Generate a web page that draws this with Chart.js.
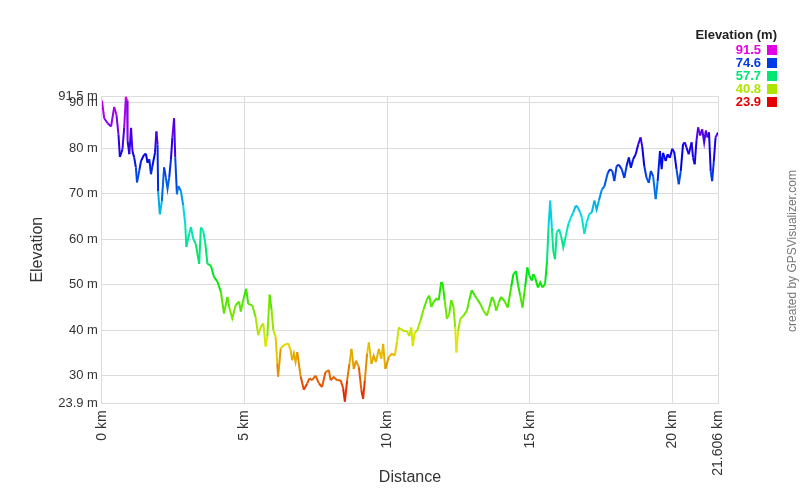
<!DOCTYPE html>
<html>
<head>
<meta charset="utf-8">
<script src="https://cdn.jsdelivr.net/npm/chart.js@4/dist/chart.umd.min.js"></script>
<style>
  html, body { margin: 0; padding: 0; background: #fff; }
  #wrap { position: relative; width: 805px; height: 493px; }
</style>
</head>
<body>
<div id="wrap"><canvas id="elevationChart" width="805" height="493"></canvas></div>
<script>
// Track profile
const distanceKm = [
  0.00, 0.08, 0.20, 0.32, 0.43, 0.51, 0.58, 0.63, 0.72, 0.78, 0.84, 0.88, 0.90, 0.96, 1.02, 1.07,
  1.13, 1.19, 1.23, 1.31, 1.37, 1.48, 1.54, 1.60, 1.66, 1.72, 1.77, 1.86, 1.91, 1.95, 1.97, 2.03,
  2.10, 2.18, 2.24, 2.30, 2.36, 2.42, 2.47, 2.53, 2.57, 2.63, 2.68, 2.77, 2.85, 2.92, 2.96, 3.06,
  3.12, 3.20, 3.29, 3.41, 3.47, 3.55, 3.62, 3.70, 3.82, 3.93, 4.05, 4.17, 4.28, 4.40, 4.46, 4.57,
  4.69, 4.81, 4.87, 4.98, 5.06, 5.13, 5.27, 5.39, 5.48, 5.57, 5.66, 5.74, 5.80, 5.88, 5.95, 6.01,
  6.09, 6.15, 6.18, 6.27, 6.38, 6.53, 6.62, 6.67, 6.73, 6.79, 6.85, 6.97, 7.08, 7.20, 7.28, 7.37,
  7.49, 7.61, 7.72, 7.84, 7.96, 8.02, 8.13, 8.25, 8.37, 8.46, 8.52, 8.60, 8.68, 8.75, 8.83, 8.91,
  9.01, 9.10, 9.16, 9.22, 9.30, 9.36, 9.45, 9.53, 9.61, 9.71, 9.80, 9.86, 9.94, 10.06, 10.17, 10.27,
  10.35, 10.41, 10.47, 10.52, 10.58, 10.70, 10.78, 10.85, 10.90, 10.97, 11.05, 11.17, 11.28, 11.40, 11.48, 11.55,
  11.63, 11.72, 11.81, 11.90, 11.95, 12.02, 12.10, 12.18, 12.25, 12.33, 12.39, 12.43, 12.49, 12.57, 12.68, 12.80,
  12.88, 12.97, 13.07, 13.15, 13.27, 13.38, 13.50, 13.59, 13.68, 13.76, 13.83, 13.91, 14.00, 14.12, 14.23, 14.35,
  14.43, 14.52, 14.59, 14.67, 14.75, 14.84, 14.92, 14.99, 15.08, 15.13, 15.19, 15.29, 15.37, 15.45, 15.54, 15.61,
  15.66, 15.72, 15.78, 15.83, 15.89, 15.95, 16.03, 16.10, 16.18, 16.27, 16.36, 16.45, 16.53, 16.62, 16.69, 16.77,
  16.83, 16.92, 17.00, 17.09, 17.18, 17.27, 17.35, 17.43, 17.53, 17.62, 17.74, 17.82, 17.90, 17.97, 18.05, 18.13,
  18.23, 18.32, 18.40, 18.48, 18.55, 18.63, 18.72, 18.81, 18.89, 18.95, 19.02, 19.10, 19.18, 19.25, 19.33, 19.42,
  19.49, 19.57, 19.63, 19.68, 19.77, 19.84, 19.92, 20.00, 20.07, 20.15, 20.23, 20.30, 20.38, 20.44, 20.50, 20.58,
  20.68, 20.73, 20.79, 20.85, 20.91, 20.98, 21.05, 21.12, 21.18, 21.24, 21.29, 21.35, 21.40, 21.46, 21.52, 21.606
];
const elevationM = [
  90.5, 86.6, 85.5, 84.8, 89.1, 87.3, 83.0, 78.1, 79.8, 84.5, 91.3, 90.5, 81.6, 78.7, 84.5, 79.4,
  78.0, 75.8, 72.5, 75.1, 77.2, 78.6, 78.8, 76.8, 77.6, 74.3, 76.1, 79.0, 83.7, 80.8, 70.6, 65.5,
  68.3, 75.8, 73.6, 71.1, 73.6, 77.6, 82.4, 86.6, 78.0, 69.9, 71.7, 70.6, 67.4, 63.4, 58.3, 61.2,
  62.7, 60.1, 59.0, 54.6, 62.6, 61.9, 59.3, 54.6, 54.2, 51.7, 50.7, 48.4, 43.7, 47.3, 45.1, 42.6,
  45.5, 46.3, 44.1, 47.3, 49.1, 45.8, 45.5, 42.9, 38.9, 40.7, 41.5, 36.4, 38.6, 47.8, 44.4, 40.0,
  38.6, 32.7, 29.8, 36.0, 36.7, 37.1, 35.6, 33.4, 34.9, 33.0, 35.2, 29.8, 26.9, 28.3, 29.4, 29.0,
  30.0, 28.3, 27.5, 30.8, 31.2, 29.0, 29.7, 29.0, 29.0, 27.2, 24.3, 29.0, 32.6, 35.9, 31.5, 33.3,
  31.9, 26.8, 24.9, 29.0, 34.9, 37.3, 32.6, 34.4, 33.0, 35.9, 33.7, 37.0, 31.5, 34.1, 34.8, 34.4,
  37.5, 40.6, 40.2, 40.2, 39.8, 39.8, 38.7, 40.6, 36.5, 39.5, 39.8, 42.1, 44.6, 46.8, 47.6, 45.1,
  46.2, 46.9, 46.6, 50.6, 50.2, 46.6, 42.5, 43.6, 46.6, 45.1, 40.6, 35.1, 39.8, 42.5, 43.2, 44.3,
  46.6, 48.8, 47.7, 46.9, 45.8, 44.3, 43.2, 45.1, 47.3, 46.2, 44.3, 46.0, 47.3, 46.4, 45.0, 49.4,
  52.3, 53.0, 50.1, 47.6, 45.0, 49.4, 53.8, 52.0, 50.9, 52.3, 51.6, 49.4, 50.5, 49.4, 50.1, 55.2,
  62.5, 68.5, 62.5, 57.4, 55.6, 61.5, 62.2, 60.8, 58.2, 60.8, 63.4, 64.8, 65.9, 67.4, 67.0, 65.9,
  64.8, 61.2, 63.7, 65.5, 65.9, 68.5, 66.5, 68.5, 70.9, 71.6, 74.6, 75.4, 75.0, 72.8, 76.1, 76.4,
  75.4, 73.5, 76.1, 78.0, 75.7, 77.6, 78.7, 80.9, 82.4, 80.3, 76.1, 73.5, 72.4, 75.0, 73.9, 68.8,
  72.8, 79.4, 75.4, 79.0, 77.2, 78.7, 77.9, 79.9, 79.2, 75.4, 72.1, 75.0, 80.9, 81.3, 80.2, 78.7,
  81.3, 78.0, 76.5, 81.6, 84.6, 82.8, 84.2, 81.3, 83.9, 82.4, 83.5, 75.0, 72.8, 77.2, 82.4, 83.5
];

// Axis ticks and legend steps
const distanceTicks = [0, 5, 10, 15, 20, 21.606];
const elevationTicks = [23.9, 30, 40, 50, 60, 70, 80, 90, 91.5];
const legendSteps = [91.5, 74.6, 57.7, 40.8, 23.9];

const minElev = 23.9;
const maxElev = 91.5;
const fontFamily = "'Liberation Sans', Arial, sans-serif";

// red at the lowest point, magenta at the highest
function elevColor(v) {
  let t = (v - minElev) / (maxElev - minElev);
  t = Math.max(0, Math.min(1, t));
  return `hsl(${Math.round(t * 300)}, 100%, 45%)`;
}

const points = distanceKm.map((d, i) => ({ x: d, y: elevationM[i] }));

const extrasPlugin = {
  id: "extras",
  afterDraw(chart) {
    const ctx = chart.ctx;
    ctx.save();
    // legend
    ctx.textAlign = "right";
    ctx.textBaseline = "middle";
    ctx.fillStyle = "#222";
    ctx.font = `bold 13px ${fontFamily}`;
    ctx.fillText("Elevation (m)", 777, 35);
    ctx.font = `bold 13px ${fontFamily}`;
    legendSteps.forEach((v, i) => {
      const y = 50 + i * 13;
      const c = elevColor(v);
      ctx.fillStyle = c;
      ctx.fillText(v.toFixed(1), 761, y);
      ctx.fillRect(767, y - 5, 10, 10);
    });
    // credit
    ctx.translate(793, 251);
    ctx.rotate(-Math.PI / 2);
    ctx.textAlign = "center";
    ctx.fillStyle = "#777";
    ctx.font = `12px ${fontFamily}`;
    ctx.fillText("created by GPSVisualizer.com", 0, 0);
    ctx.restore();
  }
};

new Chart(document.getElementById("elevationChart"), {
  type: "line",
  data: {
    datasets: [
      {
        data: points,
        borderWidth: 2,
        pointRadius: 0,
        tension: 0,
        borderColor: "#888",
        segment: {
          borderColor: (c) => elevColor((c.p0.parsed.y + c.p1.parsed.y) / 2),
        },
      },
    ],
  },
  options: {
    responsive: false,
    animation: false,
    layout: { padding: { left: 25, right: 87, top: 96, bottom: 0 } },
    plugins: { legend: { display: false }, tooltip: { enabled: false } },
    scales: {
      x: {
        type: "linear",
        min: 0,
        max: 21.606,
        afterBuildTicks: (axis) => { axis.ticks = distanceTicks.map((v) => ({ value: v })); },
        grid: { color: "#dcdcdc", drawTicks: false },
        border: { color: "#dcdcdc" },
        ticks: {
          minRotation: 90,
          maxRotation: 90,
          padding: 7,
          color: "#333",
          font: { family: fontFamily, size: 14 },
          callback: (v) => v + " km",
        },
        title: {
          display: true,
          text: "Distance",
          color: "#333",
          font: { family: fontFamily, size: 16 },
          padding: { top: -15, bottom: 6 },
        },
      },
      y: {
        min: minElev,
        max: maxElev,
        afterBuildTicks: (axis) => { axis.ticks = elevationTicks.map((v) => ({ value: v })); },
        grid: { color: "#dcdcdc", drawTicks: false },
        border: { color: "#dcdcdc" },
        ticks: {
          padding: 4,
          color: "#333",
          font: { family: fontFamily, size: 13 },
          callback: (v) => v + " m",
        },
        title: {
          display: true,
          text: "Elevation",
          color: "#333",
          font: { family: fontFamily, size: 16 },
          padding: { top: 3, bottom: 7 },
        },
      },
    },
  },
  plugins: [extrasPlugin],
});
</script>
</body>
</html>
